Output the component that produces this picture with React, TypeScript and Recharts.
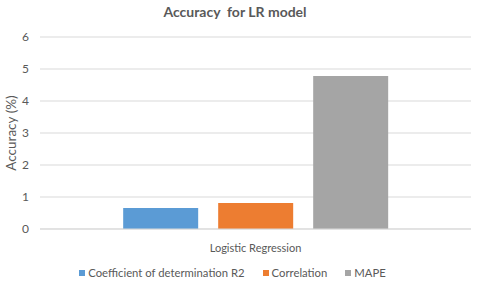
import { BarChart, Bar, XAxis, YAxis, CartesianGrid, Legend } from 'recharts'

const categories = ['Logistic Regression']
const r2Values = [0.66]
const correlationValues = [0.81]
const mapeValues = [4.78]
const yTicks = [0, 1, 2, 3, 4, 5, 6]

const SERIES = [
  { key: 'r2', name: 'Coefficient of determination R2', color: '#5B9BD5' },
  { key: 'correlation', name: 'Correlation', color: '#ED7D31' },
  { key: 'mape', name: 'MAPE', color: '#A5A5A5' }
]

const TEXT = '#595959'
const FONT = 'Lato, "Open Sans", sans-serif'

const data = categories.map((name, i) => ({
  name,
  r2: r2Values[i],
  correlation: correlationValues[i],
  mape: mapeValues[i]
}))

function LegendBox() {
  return (
    <div style={{ height: 26, display: 'flex', justifyContent: 'center', alignItems: 'center', paddingTop: 11, paddingRight: 6, boxSizing: 'border-box', fontFamily: FONT, fontSize: 11.3, color: TEXT }}>
      {SERIES.map((s, i) => (
        <span key={s.key} style={{ display: 'inline-flex', alignItems: 'center', marginRight: i < SERIES.length - 1 ? 18 : 0 }}>
          <span style={{ width: 6, height: 6, background: s.color, display: 'inline-block', marginRight: 3 }} />
          {s.name}
        </span>
      ))}
    </div>
  )
}

export default function App() {
  return (
    <div style={{ position: 'absolute', left: 0, top: 0, width: 480, height: 282, background: '#fff', fontFamily: FONT }}>
      <div style={{ position: 'absolute', top: 3, left: 0, width: 470, textAlign: 'center', fontSize: 14, fontWeight: 700, color: TEXT }}>
        Accuracy&nbsp; for LR model
      </div>
      <BarChart
        width={480}
        height={282}
        data={data}
        margin={{ top: 37, right: 9, bottom: 2, left: 0 }}
        barCategoryGap="19.3%"
        barGap={20}
      >
        <CartesianGrid vertical={false} stroke="#D9D9D9" />
        <XAxis
          dataKey="name"
          axisLine={{ stroke: '#D9D9D9' }}
          tickLine={false}
          tick={{ fill: TEXT, fontSize: 11, fontFamily: FONT }}
          tickMargin={9}
          height={25}
        />
        <YAxis
          domain={[0, 6]}
          ticks={yTicks}
          axisLine={false}
          tickLine={false}
          tickSize={0}
          tickMargin={11}
          width={40}
          tick={{ fill: TEXT, fontSize: 12, fontFamily: FONT }}
          label={{ value: 'Accuracy (%)', angle: -90, position: 'insideLeft', offset: 11, style: { textAnchor: 'middle', fill: TEXT, fontSize: 13.5, fontFamily: FONT } }}
        />
        <Legend verticalAlign="bottom" height={26} content={<LegendBox />} />
        {SERIES.map(s => (
          <Bar key={s.key} dataKey={s.key} name={s.name} fill={s.color} isAnimationActive={false} />
        ))}
      </BarChart>
    </div>
  )
}
